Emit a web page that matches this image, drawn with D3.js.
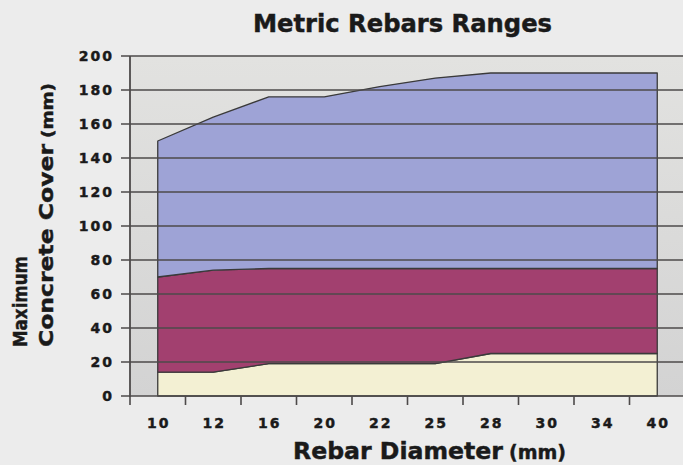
<!DOCTYPE html>
<html>
<head>
<meta charset="utf-8">
<script src="https://cdn.jsdelivr.net/npm/d3@7"></script>
<style>
  html, body { margin: 0; padding: 0; background: #ececec; }
  svg { display: block; }
  text { font-family: "DejaVu Sans", "Liberation Sans", Arial, sans-serif; font-weight: bold; fill: #1a1a1a; stroke: #1a1a1a; stroke-width: 0.45; }
</style>
</head>
<body>
<svg id="chart" width="683" height="465"></svg>
<script>
// ---- data ----
const categories = ["10", "12", "16", "20", "22", "25", "28", "30", "34", "40"];
const seriesNames = ["low", "mid", "high"];
const lowValues  = [14, 14, 19, 19, 19, 19, 25, 25, 25, 25];
const midValues  = [56, 60, 56, 56, 56, 56, 50, 50, 50, 50];
const highValues = [80, 90, 101, 101, 107, 112, 115, 115, 115, 115];
const yTicks = [0, 20, 40, 60, 80, 100, 120, 140, 160, 180, 200];
const seriesColors = ["#f3f0d3", "#a2406f", "#9ea3d6"];

const svg = d3.select("#chart");
const plot = { left: 130, right: 685, top: 56, bottom: 396 };

const rows = categories.map((c, i) => ({ cat: c, low: lowValues[i], mid: midValues[i], high: highValues[i] }));
const stacked = d3.stack().keys(seriesNames)(rows);

const x = d3.scaleBand().domain(categories).range([plot.left, plot.right]).paddingInner(0).paddingOuter(0);
const y = d3.scaleLinear().domain([0, 200]).range([plot.bottom, plot.top]);
const cx = c => x(c) + x.bandwidth() / 2;

// plot background
const defs = svg.append("defs");
const grad = defs.append("linearGradient").attr("id", "bg").attr("x1", 0).attr("y1", 0).attr("x2", 0).attr("y2", 1);
grad.append("stop").attr("offset", "0%").attr("stop-color", "#e2e2e0");
grad.append("stop").attr("offset", "100%").attr("stop-color", "#d3d3d3");
svg.append("rect")
  .attr("x", plot.left).attr("y", plot.top)
  .attr("width", plot.right - plot.left).attr("height", plot.bottom - plot.top)
  .attr("fill", "url(#bg)");

// areas
const area = d3.area()
  .x(d => cx(d.data.cat))
  .y0(d => y(d[0]))
  .y1(d => y(d[1]));

svg.append("g").selectAll("path")
  .data(stacked)
  .join("path")
  .attr("d", area)
  .attr("fill", (d, i) => seriesColors[i])
  .attr("stroke", "#3a3a3a")
  .attr("stroke-width", 1.3)
  .attr("stroke-linejoin", "round");

// gridlines (drawn over areas)
svg.append("g").selectAll("line")
  .data(yTicks)
  .join("line")
  .attr("x1", plot.left - 9).attr("x2", plot.right)
  .attr("y1", d => y(d)).attr("y2", d => y(d))
  .attr("stroke", "#4d4a4a")
  .attr("stroke-width", 1.6);

// y axis line
svg.append("line")
  .attr("x1", plot.left).attr("x2", plot.left)
  .attr("y1", plot.top).attr("y2", plot.bottom + 1)
  .attr("stroke", "#4d4a4a").attr("stroke-width", 1.8);

// y tick labels
svg.append("g").selectAll("text")
  .data(yTicks)
  .join("text")
  .attr("x", 114)
  .attr("y", d => y(d) + 5)
  .attr("text-anchor", "end")
  .attr("font-size", 14)
  .attr("letter-spacing", 2)
  .text(d => d);

// x ticks at band boundaries
const xTickPos = categories.map(c => x(c));
svg.append("g").selectAll("line")
  .data(xTickPos)
  .join("line")
  .attr("x1", d => d).attr("x2", d => d)
  .attr("y1", plot.bottom).attr("y2", plot.bottom + 9)
  .attr("stroke", "#4d4a4a").attr("stroke-width", 1.6);

// x labels
svg.append("g").selectAll("text")
  .data(categories)
  .join("text")
  .attr("x", d => cx(d) + 1)
  .attr("y", 428)
  .attr("text-anchor", "middle")
  .attr("font-size", 14)
  .attr("letter-spacing", 2)
  .text(d => d);

// title
svg.append("text")
  .attr("x", 253).attr("y", 32)
  .attr("font-size", 24)
  .attr("textLength", 299)
  .attr("lengthAdjust", "spacingAndGlyphs")
  .text("Metric Rebars Ranges");

// x axis title
svg.append("text").attr("x", 293).attr("y", 459)
  .attr("font-size", 23)
  .attr("textLength", 210).attr("lengthAdjust", "spacingAndGlyphs")
  .text("Rebar Diameter");
svg.append("text").attr("x", 509).attr("y", 459)
  .attr("font-size", 19)
  .attr("textLength", 57).attr("lengthAdjust", "spacingAndGlyphs")
  .text("(mm)");

// y axis title
const yt = svg.append("g").attr("transform", "translate(0,347) rotate(-90)");
yt.append("text").attr("x", 0).attr("y", 27).attr("font-size", 20)
  .attr("textLength", 91).attr("lengthAdjust", "spacingAndGlyphs")
  .text("Maximum");
yt.append("text").attr("x", 0).attr("y", 53).attr("font-size", 20)
  .attr("textLength", 203).attr("lengthAdjust", "spacingAndGlyphs")
  .text("Concrete Cover");
yt.append("text").attr("x", 209).attr("y", 53).attr("font-size", 16)
  .attr("textLength", 55).attr("lengthAdjust", "spacingAndGlyphs")
  .text("(mm)");
</script>
</body>
</html>
